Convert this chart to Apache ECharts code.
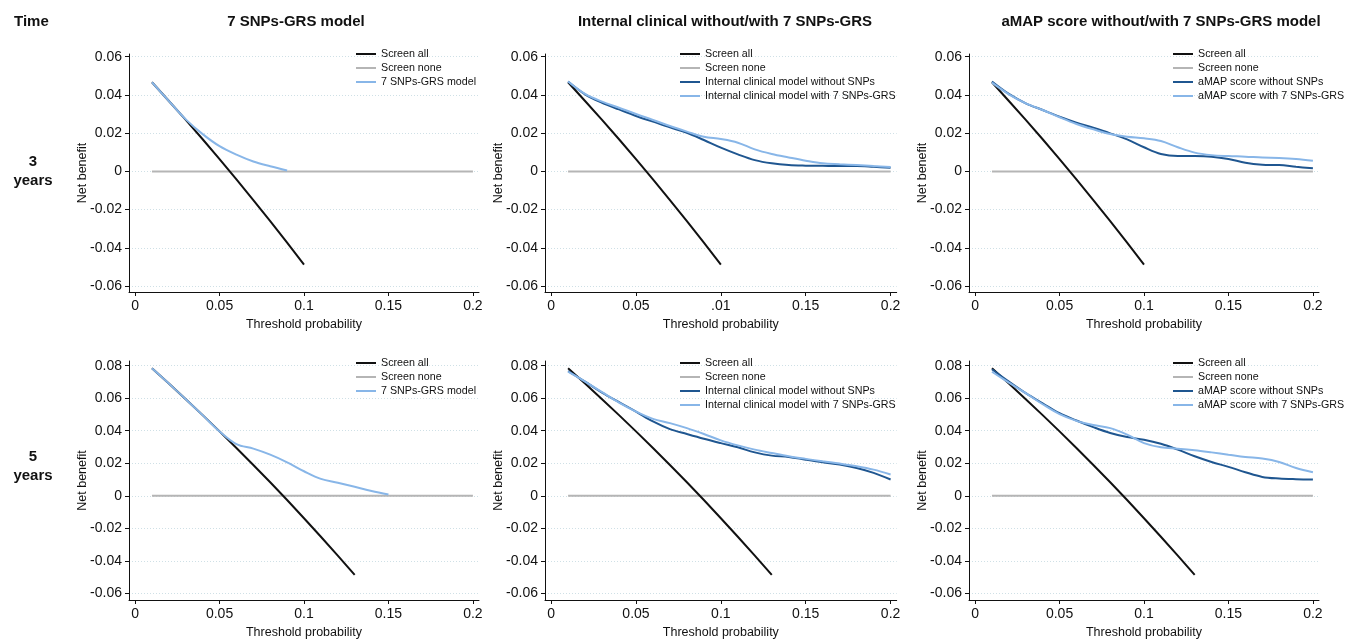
<!DOCTYPE html>
<html>
<head>
<meta charset="utf-8">
<script src="https://cdn.jsdelivr.net/npm/echarts@6/dist/echarts.min.js"></script>
<style>
html,body{margin:0;padding:0;background:#fff;}
#chart{width:1346px;height:640px;}
</style>
</head>
<body>
<div id="chart"></div>
<script>
// ---------- data ----------
const thresholds = [0.01,0.02,0.03,0.04,0.05,0.06,0.07,0.08,0.09,0.10,0.11,0.12,0.13,0.14,0.15,0.16,0.17,0.18,0.19,0.20];
const colTitles = ['7 SNPs-GRS model','Internal clinical without/with 7 SNPs-GRS','aMAP score without/with 7 SNPs-GRS model'];
const rowLabels = ['3\nyears','5\nyears'];
const xTickValues = [0,0.05,0.1,0.15,0.2];
const xTickLabelsDefault = ['0','0.05','0.1','0.15','0.2'];
const xTickLabelsClinical3y = ['0','0.05','.01','0.15','0.2'];
const yTickValues3y = [-0.06,-0.04,-0.02,0,0.02,0.04,0.06];
const yTickValues5y = [-0.06,-0.04,-0.02,0,0.02,0.04,0.06,0.08];
const screenNoneRange = [0.01,0.20];

const screenAll3y = [0.0466,0.0368,0.0269,0.0168,0.0064,-0.0042,-0.0150,-0.0260,-0.0373,-0.0488];
const screenAll5y = [0.0784,0.0690,0.0594,0.0496,0.0396,0.0294,0.0189,0.0083,-0.0026,-0.0138,-0.0252,-0.0368,-0.0487];
const grs3y = [0.0466,0.0368,0.0272,0.0195,0.0132,0.0088,0.0052,0.0027,0.0005];
const grs5y = [0.0784,0.0690,0.0594,0.0496,0.0396,0.0318,0.0290,0.0253,0.0206,0.0151,0.0104,0.0080,0.0055,0.0029,0.0008];
const clin3yWithout = [0.0470,0.0403,0.0359,0.0324,0.0290,0.0260,0.0230,0.0202,0.0164,0.0124,0.0089,0.0059,0.0042,0.0033,0.0030,0.0029,0.0028,0.0028,0.0024,0.0019];
const clin3yWith = [0.0470,0.0405,0.0365,0.0333,0.0300,0.0269,0.0237,0.0208,0.0181,0.0169,0.0150,0.0115,0.0091,0.0073,0.0056,0.0042,0.0037,0.0033,0.0028,0.0023];
const amap3yWithout = [0.0470,0.0405,0.0356,0.0321,0.0286,0.0255,0.0228,0.0199,0.0167,0.0126,0.0091,0.0080,0.0080,0.0077,0.0065,0.0045,0.0035,0.0033,0.0024,0.0016];
const amap3yWith = [0.0464,0.0403,0.0356,0.0321,0.0283,0.0248,0.0220,0.0195,0.0181,0.0173,0.0159,0.0126,0.0098,0.0085,0.0080,0.0077,0.0072,0.0070,0.0065,0.0056];
const clin5yWithout = [0.0767,0.0702,0.0635,0.0576,0.0518,0.0457,0.0410,0.0380,0.0351,0.0324,0.0298,0.0267,0.0247,0.0239,0.0222,0.0206,0.0192,0.0171,0.0141,0.0100];
const clin5yWith = [0.0763,0.0702,0.0637,0.0573,0.0518,0.0473,0.0447,0.0416,0.0380,0.0341,0.0310,0.0284,0.0263,0.0243,0.0227,0.0212,0.0198,0.0182,0.0161,0.0131];
const amap5yWithout = [0.0778,0.0702,0.0631,0.0569,0.0508,0.0463,0.0422,0.0386,0.0361,0.0345,0.0320,0.0284,0.0243,0.0208,0.0178,0.0145,0.0116,0.0106,0.0102,0.0100];
const amap5yWith = [0.0763,0.0696,0.0631,0.0563,0.0502,0.0461,0.0435,0.0416,0.0376,0.0324,0.0298,0.0290,0.0280,0.0267,0.0253,0.0239,0.0229,0.0208,0.0171,0.0145];

// ---------- helpers ----------
const pairs = vals => vals.map((v, i) => [thresholds[i], v]);
const C_ALL = '#111111', C_NONE = '#b5b5b5', C_WITHOUT = '#1f5690', C_WITH = '#88b6e8';
const FONT = '"Liberation Sans", Arial, Helvetica, sans-serif';

const cols = [{left:129,width:350},{left:545,width:351.7},{left:969,width:350}];
const rows = [{top:54,height:238,ymin:-0.0631,ymax:0.0614,yticks:yTickValues3y},
              {top:361,height:240.7,ymin:-0.0641,ymax:0.0829,yticks:yTickValues5y}];

const panels = [
  {row:0,col:0,xlabels:xTickLabelsDefault,all:screenAll3y,models:[{name:'7 SNPs-GRS model',data:grs3y,color:C_WITH}]},
  {row:0,col:1,xlabels:xTickLabelsClinical3y,all:screenAll3y,models:[{name:'Internal clinical model without SNPs',data:clin3yWithout,color:C_WITHOUT},{name:'Internal clinical model with 7 SNPs-GRS',data:clin3yWith,color:C_WITH}]},
  {row:0,col:2,xlabels:xTickLabelsDefault,all:screenAll3y,models:[{name:'aMAP score without SNPs',data:amap3yWithout,color:C_WITHOUT},{name:'aMAP score with 7 SNPs-GRS',data:amap3yWith,color:C_WITH}]},
  {row:1,col:0,xlabels:xTickLabelsDefault,all:screenAll5y,models:[{name:'7 SNPs-GRS model',data:grs5y,color:C_WITH}]},
  {row:1,col:1,xlabels:xTickLabelsDefault,all:screenAll5y,models:[{name:'Internal clinical model without SNPs',data:clin5yWithout,color:C_WITHOUT},{name:'Internal clinical model with 7 SNPs-GRS',data:clin5yWith,color:C_WITH}]},
  {row:1,col:2,xlabels:xTickLabelsDefault,all:screenAll5y,models:[{name:'aMAP score without SNPs',data:amap5yWithout,color:C_WITHOUT},{name:'aMAP score with 7 SNPs-GRS',data:amap5yWith,color:C_WITH}]}
];

const legendLeft = [356,680,1173];
const legendTop = [47,356];

const grid = [], xAxis = [], yAxis = [], series = [], legend = [];
panels.forEach((p, idx) => {
  const c = cols[p.col], r = rows[p.row];
  grid.push({left:c.left, top:r.top, width:c.width, height:r.height, containLabel:false});
  xAxis.push({
    type:'value', gridIndex:idx, min:-0.0036, max:0.2036,
    name:'Threshold probability', nameLocation:'middle', nameGap:26, nameMoveOverlap:false,
    nameTextStyle:{fontFamily:FONT, fontSize:12.5, color:'#111'},
    axisLine:{show:true, onZero:false, lineStyle:{color:'#111', width:1}},
    axisTick:{show:true, length:4, customValues:xTickValues, lineStyle:{color:'#111'}},
    axisLabel:{customValues:xTickValues, margin:7, fontFamily:FONT, fontSize:14, color:'#111',
      formatter: v => { const k = xTickValues.findIndex(t => Math.abs(t - v) < 1e-9); return k >= 0 ? p.xlabels[k] : ''; }},
    splitLine:{show:false}
  });
  yAxis.push({
    type:'value', gridIndex:idx, min:r.ymin, max:r.ymax,
    name:'Net benefit', nameLocation:'middle', nameGap:40, nameMoveOverlap:false,
    nameTextStyle:{fontFamily:FONT, fontSize:12.5, color:'#111'},
    axisLine:{show:true, onZero:false, lineStyle:{color:'#111', width:1}},
    axisTick:{show:true, length:4, customValues:r.yticks, lineStyle:{color:'#111'}},
    axisLabel:{customValues:r.yticks, margin:7, fontFamily:FONT, fontSize:14, color:'#111',
      formatter: v => { const t = r.yticks.find(t => Math.abs(t - v) < 1e-9); return t === undefined ? '' : (t === 0 ? '0' : String(t)); }},
    splitLine:{show:true, lineStyle:{color:'#cfe0e6', width:1, type:[1,2]}}
  });
  const names = ['Screen all','Screen none'];
  series.push({type:'line', name:'Screen all', xAxisIndex:idx, yAxisIndex:idx, data:pairs(p.all), showSymbol:false, symbol:'none', lineStyle:{color:C_ALL, width:2}, itemStyle:{color:C_ALL}, z:3, animation:false});
  series.push({type:'line', name:'Screen none', xAxisIndex:idx, yAxisIndex:idx, data:screenNoneRange.map(x => [x, 0]), showSymbol:false, symbol:'none', lineStyle:{color:C_NONE, width:2}, itemStyle:{color:C_NONE}, z:2, animation:false});
  p.models.forEach((m, k) => {
    names.push(m.name);
    series.push({type:'line', name:m.name, xAxisIndex:idx, yAxisIndex:idx, data:pairs(m.data), showSymbol:false, symbol:'none', smooth:0.35, lineStyle:{color:m.color, width:2}, itemStyle:{color:m.color}, z:4 + k, animation:false});
  });
  legend.push({
    data:names.map(n => ({name:n, itemStyle:{color: n === 'Screen all' ? C_ALL : n === 'Screen none' ? C_NONE : p.models.find(m => m.name === n).color}})),
    orient:'vertical', left:legendLeft[p.col], top:legendTop[p.row], itemWidth:20, itemHeight:2, itemGap:0,
    icon:'rect', padding:0, selectedMode:false,
    textStyle:{fontFamily:FONT, fontSize:10.7, color:'#111', lineHeight:14, padding:[0,0,0,0]}
  });
});

const headerStyle = {font:'bold 15px ' + FONT, fill:'#111'};
const graphic = [
  {type:'text', left:14, top:14, style:Object.assign({text:'Time'}, headerStyle)},
];
const titleCenters = [296, 725, 1161];
colTitles.forEach((t, i) => graphic.push({type:'text', x:titleCenters[i], y:22, style:Object.assign({text:t, textAlign:'center', textVerticalAlign:'middle'}, headerStyle)}));
const rowCenters = [171, 466];
rowLabels.forEach((t, i) => graphic.push({type:'text', x:33, y:rowCenters[i], style:Object.assign({text:t, textAlign:'center', textVerticalAlign:'middle', lineHeight:19}, headerStyle)}));

const chart = echarts.init(document.getElementById('chart'), null, {renderer:'canvas'});
chart.setOption({backgroundColor:'#fff', animation:false, grid, xAxis, yAxis, series, legend, graphic, tooltip:{show:false}});
</script>
</body>
</html>
